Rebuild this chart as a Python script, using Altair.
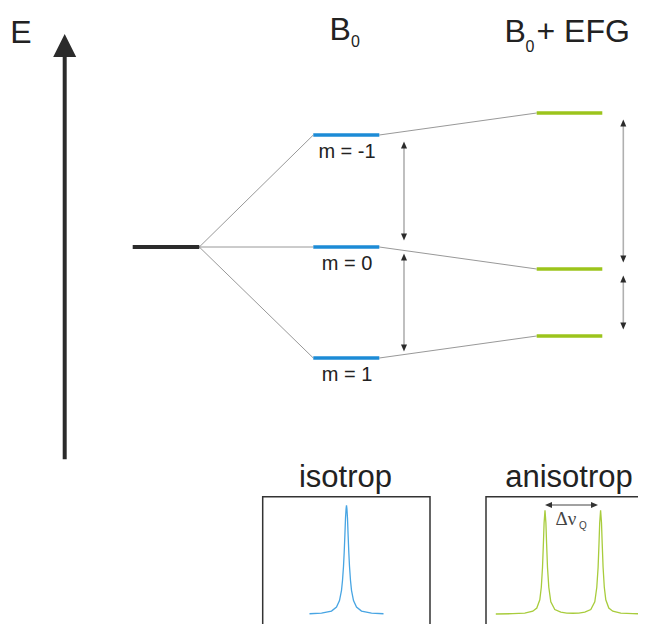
import altair as alt
import pandas as pd

# ---------------- data ----------------
# energy levels (arbitrary units, relative to the unperturbed level)
E_unperturbed = [0]
E_B0 = [112, 0, -111]        # m = -1, 0, 1   (Zeeman splitting in B0)
E_EFG = [134, -22, -89]      # m = -1, 0, 1   (B0 + quadrupolar EFG)
m_labels = ["m = -1", "m = 0", "m = 1"]

# isotropic spectrum: frequency offset and intensity
iso_offset = [-37, -25, -15, -10, -7, -5, -4, -3, -2.3, -1.6, -1, -0.4, 0,
              0.4, 1, 1.6, 2.3, 3, 4, 5, 7, 10, 15, 25, 37]
iso_int = [0.005, 0.011, 0.03, 0.066, 0.126, 0.22, 0.31, 0.44, 0.57, 0.73, 0.88, 0.97, 1.0,
           0.97, 0.88, 0.73, 0.57, 0.44, 0.31, 0.22, 0.126, 0.066, 0.03, 0.011, 0.005]

# anisotropic spectrum (quadrupolar doublet)
aniso_offset = [-77, -60, -48, -40, -36, -33, -31.5, -30.3, -29.4, -28.7, -27.8,
                -26.9, -26.2, -25.3, -24, -22, -18, -12, -6, 0,
                6, 12, 18, 22, 24, 25.3, 26.2, 26.9, 27.8,
                28.7, 29.4, 30.3, 31.5, 33, 36, 40, 48, 60, 77]
aniso_int = [0.003, 0.006, 0.012, 0.03, 0.06, 0.14, 0.26, 0.45, 0.68, 0.88, 1.0,
             0.88, 0.68, 0.45, 0.26, 0.12, 0.045, 0.02, 0.012, 0.01,
             0.012, 0.02, 0.045, 0.12, 0.26, 0.45, 0.68, 0.88, 1.0,
             0.88, 0.68, 0.45, 0.26, 0.14, 0.06, 0.03, 0.012, 0.006, 0.003]

# ---------------- layout ----------------
W, H = 630, 616
xs = alt.Scale(domain=[8, 638], range=[0, W], nice=False, zero=False)
ys = alt.Scale(domain=[8, 624], range=[0, H], nice=False, zero=False)

def X(f):
    return alt.X(f, type="quantitative", scale=xs, axis=None)

def Y(f):
    return alt.Y(f, type="quantitative", scale=ys, axis=None)

Y0 = 247.0
def ypix(e):
    return Y0 - e

span0 = (132.7, 199.3)
span1 = (313.3, 379.3)
span2 = (536.7, 602.3)

BLUE = "#1c8bd6"
GREEN = "#9cc41c"
DARK = "#2b2b2b"

lev_black = pd.DataFrame({"x": [span0[0]], "x2": [span0[1]], "y": [ypix(e) for e in E_unperturbed]})
lev_blue = pd.DataFrame({"x": [span1[0]] * 3, "x2": [span1[1]] * 3, "y": [ypix(e) for e in E_B0]})
lev_green = pd.DataFrame({"x": [span2[0]] * 3, "x2": [span2[1]] * 3, "y": [ypix(e) for e in E_EFG]})

conn = pd.DataFrame({
    "x": [span0[1]] * 3 + [span1[1]] * 3,
    "y": [ypix(E_unperturbed[0])] * 3 + [ypix(e) for e in E_B0],
    "x2": [span1[0]] * 3 + [span2[0]] * 3,
    "y2": [ypix(e) for e in E_B0] + [ypix(e) for e in E_EFG],
})

gap = 6.5
arr_rows = []
for xa, E in [(404.0, E_B0), (623.3, E_EFG)]:
    for a, b in [(0, 1), (1, 2)]:
        arr_rows.append({"x": xa, "y": ypix(E[a]) + gap, "y2": ypix(E[b]) - gap})
arrows = pd.DataFrame(arr_rows)
heads_up = pd.DataFrame({"x": arrows["x"], "y": arrows["y"]})
heads_dn = pd.DataFrame({"x": arrows["x"], "y": arrows["y2"]})
shaft = pd.DataFrame({"x": arrows["x"], "y": arrows["y"] + 5, "y2": arrows["y2"] - 5})

UP = "M0,0L0.86,2L-0.86,2Z"
DN = "M0,0L0.86,-2L-0.86,-2Z"
LEFT = "M0,0L2,0.86L2,-0.86Z"
RIGHT = "M0,0L-2,0.86L-2,-0.86Z"
BIGUP = "M0,0L1,2L-1,2Z"


def rules(df, color, width, cap="butt"):
    enc = dict(x=X("x"), y=Y("y"))
    if "x2" in df:
        enc["x2"] = alt.X2("x2")
    if "y2" in df:
        enc["y2"] = alt.Y2("y2")
    return alt.Chart(df).mark_rule(color=color, strokeWidth=width, strokeCap=cap).encode(**enc)


def heads(df, shape, size, color=DARK):
    return alt.Chart(df).mark_point(shape=shape, size=size, filled=True, opacity=1,
                                    color=color, strokeWidth=0).encode(x=X("x"), y=Y("y"))


def text(x, y, s, size, font="Liberation Sans", align="left", color="#222222"):
    df = pd.DataFrame({"x": [x], "y": [y], "t": [s]})
    return alt.Chart(df).mark_text(fontSize=size, font=font, align=align, baseline="alphabetic",
                                   color=color).encode(x=X("x"), y=Y("y"), text="t:N")


layers = []

# big energy arrow
layers.append(rules(pd.DataFrame({"x": [64.7], "y": [52.0], "y2": [459.3]}), DARK, 4))
layers.append(heads(pd.DataFrame({"x": [64.7], "y": [34.0]}), BIGUP, 529))
layers.append(text(10.2, 43.3, "E", 32))

# titles
layers.append(text(329.5, 40.0, "B", 32))
layers.append(text(351.0, 46.7, "0", 16))
layers.append(text(504.4, 41.7, "B", 32))
layers.append(text(525.5, 52.0, "0", 16))
layers.append(text(536.5, 41.7, "+ EFG", 32))

# connectors
layers.append(rules(conn, "#8c8c8c", 0.9))

# levels
layers.append(rules(lev_black, DARK, 4))
layers.append(rules(lev_blue, BLUE, 3.6))
layers.append(rules(lev_green, GREEN, 3.6))

# m labels
for i, lab in enumerate(m_labels):
    layers.append(text(347.0, ypix(E_B0[i]) + 22.8, lab, 20, align="center"))

# splitting arrows
layers.append(rules(shaft, "#b0b0b0", 1.6))
layers.append(heads(heads_up, UP, 49))
layers.append(heads(heads_dn, DN, 49))

# spectrum boxes
boxes = pd.DataFrame({"x": [262.7, 486.0], "x2": [430.0, 670.0], "y": [496.7, 496.7], "y2": [650.0, 650.0]})
layers.append(alt.Chart(boxes).mark_rect(filled=False, stroke="#333333", strokeWidth=1.5)
              .encode(x=X("x"), x2=alt.X2("x2"), y=Y("y"), y2=alt.Y2("y2")))
layers.append(text(345.5, 486.7, "isotrop", 31, align="center"))
layers.append(text(569.0, 486.7, "anisotrop", 31, align="center"))

# spectra
iso_c, iso_base, iso_h = 346.5, 614.3, 109.0
iso_df = pd.DataFrame({"i": range(len(iso_offset)),
                       "x": [iso_c + o for o in iso_offset],
                       "y": [iso_base - v * iso_h for v in iso_int]})
an_c, an_base, an_h = 572.8, 614.3, 104.0
an_df = pd.DataFrame({"i": range(len(aniso_offset)),
                      "x": [an_c + o for o in aniso_offset],
                      "y": [an_base - v * an_h for v in aniso_int]})
layers.append(alt.Chart(iso_df).mark_line(color="#48a5e3", strokeWidth=1.3)
              .encode(x=X("x"), y=Y("y"), order="i:Q"))
layers.append(alt.Chart(an_df).mark_line(color="#a8cc3c", strokeWidth=1.3)
              .encode(x=X("x"), y=Y("y"), order="i:Q"))

# delta nu arrow
dn = pd.DataFrame({"x": [550.0], "x2": [593.0], "y": [505.0]})
layers.append(rules(dn, "#444444", 1.0))
layers.append(heads(pd.DataFrame({"x": [545.0], "y": [505.0]}), LEFT, 49, "#333333"))
layers.append(heads(pd.DataFrame({"x": [598.0], "y": [505.0]}), RIGHT, 49, "#333333"))
layers.append(text(555.5, 525.0, "\u0394\u03bd", 19, font="Liberation Serif", color="#444444"))
layers.append(text(579.0, 529.0, "Q", 10, color="#444444"))

chart = alt.layer(*layers).properties(
    width=W, height=H, padding=0,
    autosize=alt.AutoSizeParams(type="none"),
    background="white",
).configure_view(stroke=None)

chart.save("out.html", embed_options={"renderer": "svg", "actions": False})
